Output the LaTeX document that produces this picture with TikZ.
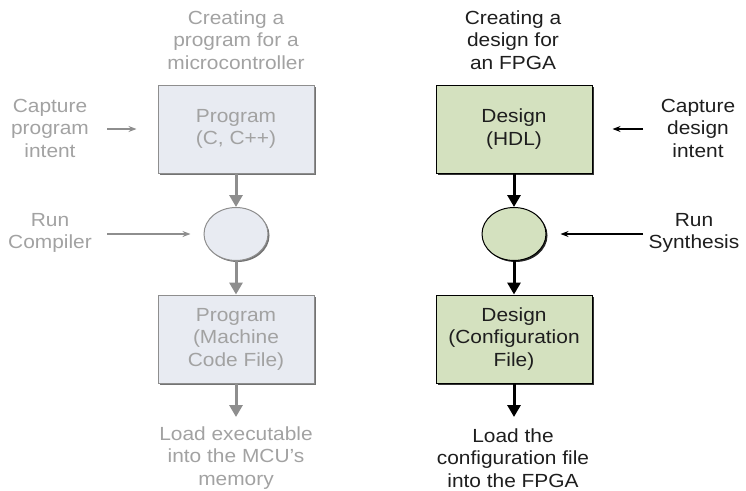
\documentclass[tikz,border=0pt]{standalone}
\usepackage{fontspec}
\setmainfont{Liberation Sans}[FakeStretch=1.1]
\usetikzlibrary{arrows.meta, shapes.geometric, shadows}
\definecolor{mcutxt}{HTML}{A2A2A2}
\definecolor{mcuedge}{HTML}{8E8E8E}
\definecolor{mcufill}{HTML}{E8EBF2}
\definecolor{fpgatxt}{HTML}{1E1E1E}
\definecolor{fpgafill}{HTML}{D4E1BF}
\tikzset{
	every node/.style={font=\fontsize{19}{22.5}\selectfont, align=center, inner sep=2pt},
	mcutext/.style={text=mcutxt},
	fpgatext/.style={text=fpgatxt},
	mcubox/.style={rectangle, draw=mcuedge, fill=mcufill, line width=1pt, minimum width=156pt, minimum height=88pt, text=mcutxt,
		drop shadow={shadow xshift=1.5pt, shadow yshift=-1.5pt, fill=black!55, opacity=1}},
	fpgabox/.style={rectangle, draw=black, fill=fpgafill, line width=1pt, minimum width=156pt, minimum height=88pt, text=fpgatxt,
		drop shadow={shadow xshift=1.5pt, shadow yshift=-1.5pt, fill=black!80, opacity=1}},
	mcustep/.style={ellipse, draw=mcuedge, fill=mcufill, line width=1pt, minimum width=64pt, minimum height=53pt,
		drop shadow={shadow xshift=1.5pt, shadow yshift=-1.5pt, fill=black!55, opacity=1}},
	fpgastep/.style={ellipse, draw=black, fill=fpgafill, line width=1pt, minimum width=64pt, minimum height=53pt,
		drop shadow={shadow xshift=1.5pt, shadow yshift=-1.5pt, fill=black!85, opacity=1}},
	mcuflow/.style={draw=mcuedge, line width=3pt, -{Triangle[width=13pt, length=12pt]}},
	fpgaflow/.style={draw=black, line width=3pt, -{Triangle[width=13pt, length=12pt]}},
	mcuside/.style={draw=mcuedge, line width=1.2pt, -{Stealth[width=6pt, length=8pt]}},
	fpgaside/.style={draw=black, line width=1.2pt, -{Stealth[width=6pt, length=8pt]}},
}

\begin{document}
\begin{tikzpicture}[x=1pt, y=-1pt]
	\useasboundingbox (0,0) rectangle (746,490);

	% Program for a microcontroller
	\node[mcutext] (mcuTitle) at (236,40) {Creating a\\program for a\\microcontroller};
	\node[mcubox] (mcuSrc) at (236,129) {Program\\(C, C++)};
	\node[mcustep] (mcuComp) at (236,234) {};
	\node[mcubox] (mcuExe) at (236,339) {Program\\(Machine\\Code File)};
	\coordinate (mcuEnd) at (236,417);
	\node[mcutext] (mcuLoad) at (236,458) {Load executable\\into the MCU's\\memory};

	\node[mcutext] (mcuCap) at (50,128) {Capture\\program\\intent};
	\node[mcutext] (mcuRun) at (50,233) {Run\\Compiler};
	\coordinate (mcuCapTail) at (107,129);
	\coordinate (mcuRunTail) at (107,234);

	\draw[mcuflow] (mcuSrc) -- (mcuComp);
	\draw[mcuflow] (mcuComp) -- (mcuExe);
	\draw[mcuflow] (mcuExe) -- (mcuEnd);
	\draw[mcuside, shorten >=21pt] (mcuCapTail) -- (mcuSrc);
	\draw[mcuside, shorten >=13pt] (mcuRunTail) -- (mcuComp);

	% Design for an FPGA
	\node[fpgatext] (fpgaTitle) at (513,40) {Creating a\\design for\\an FPGA};
	\node[fpgabox] (fpgaSrc) at (514,129) {Design\\(HDL)};
	\node[fpgastep] (fpgaSynth) at (514,234) {};
	\node[fpgabox] (fpgaCfg) at (514,339) {Design\\(Configuration\\File)};
	\coordinate (fpgaEnd) at (514,417);
	\node[fpgatext] (fpgaLoad) at (513,458) {Load the\\configuration file\\into the FPGA};

	\node[fpgatext] (fpgaCap) at (698,128) {Capture\\design\\intent};
	\node[fpgatext] (fpgaRun) at (694,233) {Run\\Synthesis};
	\coordinate (fpgaCapTail) at (643,129);
	\coordinate (fpgaRunTail) at (643,234);

	\draw[fpgaflow] (fpgaSrc) -- (fpgaSynth);
	\draw[fpgaflow] (fpgaSynth) -- (fpgaCfg);
	\draw[fpgaflow] (fpgaCfg) -- (fpgaEnd);
	\draw[fpgaside, shorten >=20pt] (fpgaCapTail) -- (fpgaSrc);
	\draw[fpgaside, shorten >=14pt] (fpgaRunTail) -- (fpgaSynth);
\end{tikzpicture}
\end{document}
